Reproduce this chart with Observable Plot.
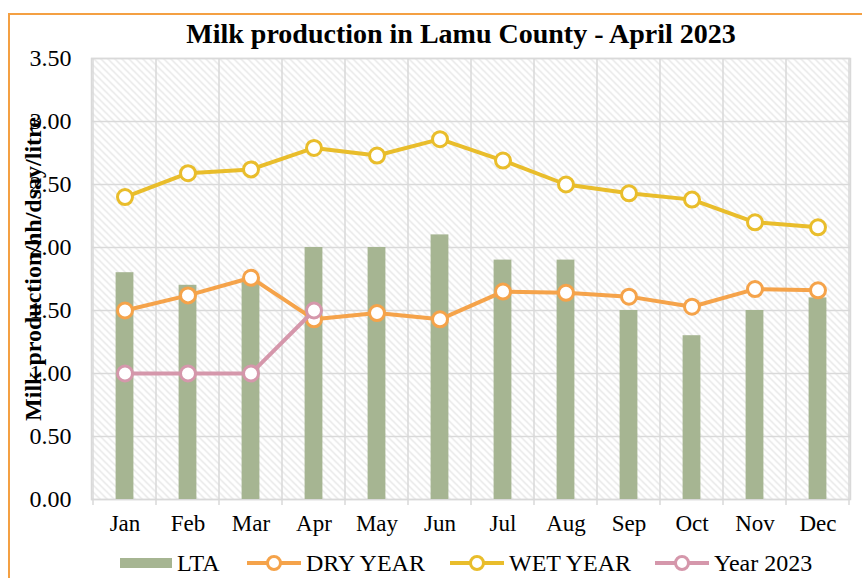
<!DOCTYPE html>
<html>
<head>
<meta charset="utf-8">
<script src="https://cdn.jsdelivr.net/npm/d3@7"></script>
<script src="https://cdn.jsdelivr.net/npm/@observablehq/plot@0.6"></script>
<style>
  html, body { margin: 0; padding: 0; background: #fff; }
  #wrap { position: relative; width: 862px; height: 578px; overflow: hidden; font-family: "Liberation Serif", "Times New Roman", serif; }
  #border { position: absolute; left: 8px; top: 13px; width: 900px; height: 620px; border: 2px solid #F4A043; box-sizing: border-box; }
  #title { position: absolute; left: 461px; top: 19px; transform: translateX(-50%); white-space: nowrap; font-weight: bold; font-size: 28px; line-height: 30px; color: #000; }
  #chart { position: absolute; left: 0; top: 0; }
  .leg { position: absolute; top: 551px; height: 24px; display: flex; align-items: center; font-size: 24px; color: #000; white-space: nowrap; }
  .leg svg { margin-right: 5px; }
</style>
</head>
<body>
<svg width="0" height="0" style="position:absolute">
  <defs>
    <pattern id="hatch" patternUnits="userSpaceOnUse" width="7" height="7">
      <path d="M0,0 L7,7 M-1,6 L1,8 M6,-1 L8,1" stroke="#e0e0e0" stroke-width="1.2"/>
    </pattern>
  </defs>
</svg>
<div id="wrap">
  <div id="border"></div>
  <div id="chart"></div>
  <div id="title"></div>
  <div id="legend"></div>
</div>
<script>
const title = "Milk production in Lamu County - April 2023";
const yLabel = "Milk production/hh/dsay/litre";
const months = ["Jan","Feb","Mar","Apr","May","Jun","Jul","Aug","Sep","Oct","Nov","Dec"];
const lta      = [1.80, 1.70, 1.75, 2.00, 2.00, 2.10, 1.90, 1.90, 1.50, 1.30, 1.50, 1.60];
const dryYear  = [1.50, 1.62, 1.76, 1.43, 1.48, 1.43, 1.65, 1.64, 1.61, 1.53, 1.67, 1.66];
const wetYear  = [2.40, 2.59, 2.62, 2.79, 2.73, 2.86, 2.69, 2.50, 2.43, 2.38, 2.20, 2.16];
const year2023 = [1.00, 1.00, 1.00, 1.50];
const yTicks = [0, 0.5, 1, 1.5, 2, 2.5, 3, 3.5];
const seriesNames = ["LTA", "DRY YEAR", "WET YEAR", "Year 2023"];
const colors = {"LTA": "#A6B592", "DRY YEAR": "#F5A34A", "WET YEAR": "#E9BD2B", "Year 2023": "#D597AB"};

const ltaRows = months.map((m, i) => ({month: m, value: lta[i]}));
const lineRows = [
  ...months.map((m, i) => ({month: m, value: dryYear[i], series: "DRY YEAR"})),
  ...months.map((m, i) => ({month: m, value: wetYear[i], series: "WET YEAR"})),
  ...year2023.map((v, i) => ({month: months[i], value: v, series: "Year 2023"}))
];

// vertical grid lines at band boundaries, extending slightly below the axis
function bandGrid(index, scales, values, dims) {
  const g = d3.create("svg:g");
  const bw = scales.x.bandwidth ? scales.x.bandwidth() : 0;
  const xs = months.map(m => scales.x(m));
  xs.push(scales.x(months[months.length - 1]) + bw);
  for (const x of xs) {
    g.append("line")
      .attr("x1", x).attr("x2", x)
      .attr("y1", dims.marginTop).attr("y2", dims.height - dims.marginBottom + 6)
      .attr("stroke", "#d9d9d9").attr("stroke-width", 1.5);
  }
  return g.node();
}

const plot = Plot.plot({
  width: 862,
  height: 545,
  marginLeft: 91,
  marginRight: 12,
  marginTop: 58,
  marginBottom: 46,
  style: {fontFamily: "'Liberation Serif', 'Times New Roman', serif", fontSize: "24px", color: "#000", background: "transparent", overflow: "visible"},
  x: {domain: months, padding: 0, label: null},
  y: {domain: [0, 3.5], label: null},
  marks: [
    Plot.frame({fill: "url(#hatch)", stroke: "#d9d9d9", strokeWidth: 1.5}),
    Plot.gridY(yTicks, {stroke: "#d9d9d9", strokeOpacity: 1, strokeWidth: 1.5}),
    bandGrid,
    Plot.barY(ltaRows, {x: "month", y: "value", fill: colors["LTA"], insetLeft: 22.6, insetRight: 22.6}),
    ...["DRY YEAR", "WET YEAR", "Year 2023"].flatMap(s => [
      Plot.line(lineRows.filter(d => d.series === s), {x: "month", y: "value", stroke: colors[s], strokeWidth: 4}),
      Plot.dot(lineRows.filter(d => d.series === s), {x: "month", y: "value", r: 7.5, fill: "white", stroke: colors[s], strokeWidth: 3})
    ]),
    Plot.axisY(yTicks, {tickSize: 0, tickPadding: 20, tickFormat: d3.format(".2f"), fontSize: 24}),
    Plot.axisX({tickSize: 0, tickPadding: 15, fontSize: 23, label: null}),
    Plot.text([yLabel], {frameAnchor: "left", rotate: -90, dx: -58, dy: -10, fontWeight: "bold", fontSize: 24, textAnchor: "middle", lineAnchor: "middle", fill: "#000"})
  ]
});
document.getElementById("chart").appendChild(plot);
document.getElementById("title").textContent = title;

// legend
const legendLeft = {"LTA": 120, "DRY YEAR": 247, "WET YEAR": 450, "Year 2023": 655};
const legend = document.getElementById("legend");
for (const s of seriesNames) {
  const item = document.createElement("div");
  item.className = "leg";
  item.style.left = legendLeft[s] + "px";
  const sw = d3.create("svg").attr("width", s === "LTA" ? 52 : 54).attr("height", 20);
  if (s === "LTA") {
    sw.append("rect").attr("x", 0).attr("y", 5).attr("width", 52).attr("height", 10).attr("fill", colors[s]);
  } else {
    sw.append("line").attr("x1", 0).attr("x2", 54).attr("y1", 10).attr("y2", 10).attr("stroke", colors[s]).attr("stroke-width", 4);
    sw.append("circle").attr("cx", 27).attr("cy", 10).attr("r", 6.5).attr("fill", "white").attr("stroke", colors[s]).attr("stroke-width", 3);
  }
  item.appendChild(sw.node());
  const t = document.createElement("span");
  t.textContent = s;
  item.appendChild(t);
  legend.appendChild(item);
}
</script>
</body>
</html>
